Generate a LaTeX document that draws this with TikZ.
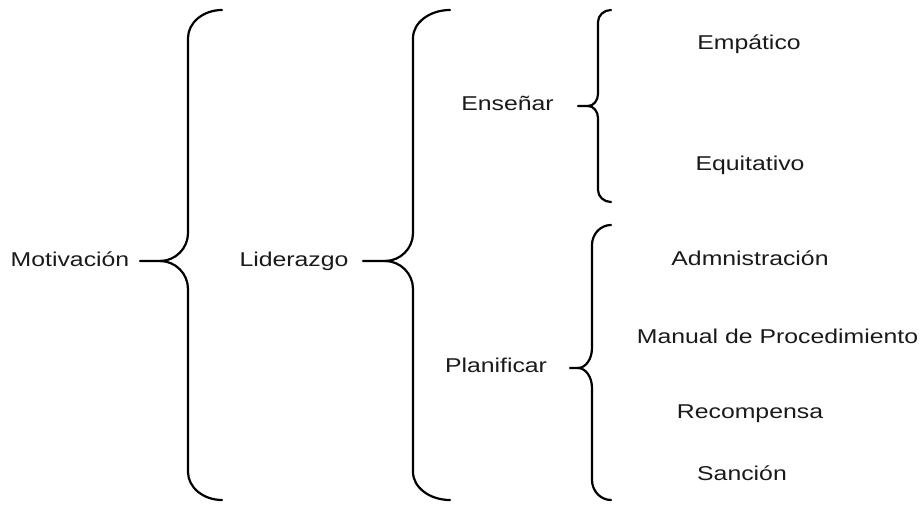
\documentclass[tikz,border=0pt]{standalone}
\usepackage{fontspec}
\setmainfont[FakeStretch=1.24]{Liberation Sans}
\definecolor{ink}{HTML}{1A1A1A}
\tikzset{
  brace/.style={draw=black, line width=2.2pt, line cap=round, line join=round},
  lbl/.style={anchor=base, inner sep=0pt, text=ink, font=\fontsize{20}{24}\selectfont}
}
% #1 tip x, #2 spine x, #3 end x, #4 top y, #5 middle y, #6 bottom y, #7 corner, #8 tip curve width
\newcommand\mybrace[8]{%
  \draw[brace] (#3,#4) .. controls ({#3-0.55*(#3-#2)},#4) and (#2,{#4+0.45*#7}) .. (#2,{#4+#7})
    -- (#2,{#5-#7}) .. controls (#2,{#5-0.45*#7}) and ({#2-0.45*#8},#5) .. ({#2-#8},#5) -- (#1,#5);
  \draw[brace] (#3,#6) .. controls ({#3-0.55*(#3-#2)},#6) and (#2,{#6-0.45*#7}) .. (#2,{#6-#7})
    -- (#2,{#5+#7}) .. controls (#2,{#5+0.45*#7}) and ({#2-0.45*#8},#5) .. ({#2-#8},#5);
}
\begin{document}
\begin{tikzpicture}[x=1pt,y=-1pt]
\useasboundingbox (0,0) rectangle (920,508);
\mybrace{140}{188}{222}{10}{261}{500}{28}{28}
\mybrace{363}{413}{450}{10}{261}{500}{28}{28}
\mybrace{578}{598}{611}{10}{106}{202}{12}{10}
\mybrace{570}{592}{611}{225}{368}{500}{20}{14}
\node[lbl] (mot) at (70,266) {Motivación};
\node[lbl] (lid) at (294,266) {Liderazgo};
\node[lbl] (ens) at (507.5,110.7) {Enseñar};
\node[lbl] (pla) at (496,372) {Planificar};
\node[lbl] (emp) at (749,49.3) {Empático};
\node[lbl] (equ) at (750,170) {Equitativo};
\node[lbl] (adm) at (750,265) {Admnistración};
\node[lbl] (man) at (777.5,343.3) {Manual de Procedimiento};
\node[lbl] (rec) at (750,418) {Recompensa};
\node[lbl] (san) at (742,480) {Sanción};
\end{tikzpicture}
\end{document}
